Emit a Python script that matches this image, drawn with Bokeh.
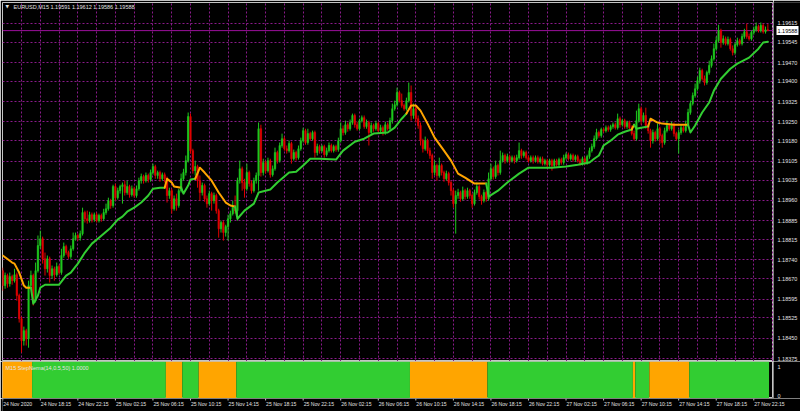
import numpy as np
from bokeh.plotting import figure
from bokeh.layouts import column, row
from bokeh.models import Range1d, FixedTicker, Grid, Span, ColumnDataSource
from bokeh.core.properties import value
from bokeh.embed import file_html
from bokeh.resources import INLINE

# ---------------- data ----------------
symbol_title = "EURUSD,M15  1.19591 1.19612 1.19586 1.19588"
indicator_title = "M15 StepNema(14,0.5,50) 1.0000"
last_price = 1.19588
open_first = 1.18700

close = [
1.18645,1.18682,1.18652,1.18678,1.18663,1.18685,1.18608,1.18522,1.18441,1.18478,
1.18448,1.18645,1.18682,1.18589,1.18700,1.18793,1.18818,1.18744,1.18707,1.18744,
1.18682,1.18707,1.18685,1.18715,1.18693,1.18756,1.18789,1.18767,1.18752,1.18781,
1.18818,1.18830,1.18822,1.18837,1.18915,1.18892,1.18885,1.18907,1.18889,1.18907,
1.18885,1.18904,1.18892,1.18915,1.18929,1.18959,1.18941,1.19011,1.18970,1.18996,
1.19011,1.19018,1.18989,1.19011,1.18981,1.19003,1.18978,1.19003,1.19033,1.19048,
1.19033,1.19052,1.19037,1.19063,1.19085,1.19052,1.19063,1.19040,1.19055,1.19040,
1.18978,1.18996,1.18929,1.18966,1.18941,1.18996,1.19040,1.19063,1.19107,1.19270,
1.19144,1.19070,1.19085,1.19033,1.18989,1.19015,1.18966,1.18948,1.18985,1.18959,
1.18978,1.18922,1.18855,1.18878,1.18841,1.18863,1.18892,1.18911,1.18941,1.18922,
1.19033,1.19077,1.19026,1.19003,1.19063,1.19022,1.18996,1.19033,1.19052,1.19225,
1.19063,1.19100,1.19070,1.19107,1.19055,1.19077,1.19137,1.19107,1.19163,1.19188,
1.19151,1.19144,1.19170,1.19114,1.19137,1.19118,1.19151,1.19181,1.19218,1.19174,
1.19207,1.19188,1.19211,1.19137,1.19159,1.19144,1.19159,1.19129,1.19144,1.19163,
1.19144,1.19159,1.19148,1.19181,1.19225,1.19211,1.19240,1.19225,1.19248,1.19274,
1.19240,1.19225,1.19255,1.19266,1.19233,1.19248,1.19211,1.19237,1.19225,1.19244,
1.19218,1.19229,1.19211,1.19240,1.19225,1.19255,1.19299,1.19314,1.19359,1.19329,
1.19311,1.19299,1.19329,1.19359,1.19274,1.19299,1.19262,1.19237,1.19181,1.19151,
1.19181,1.19144,1.19126,1.19063,1.19089,1.19052,1.19089,1.19063,1.19040,1.19059,
1.19026,1.18996,1.18948,1.18978,1.18989,1.18966,1.18996,1.18974,1.18996,1.18978,
1.18948,1.18989,1.19011,1.18974,1.18959,1.18989,1.18966,1.19040,1.19077,1.19048,
1.19089,1.19063,1.19107,1.19126,1.19107,1.19122,1.19107,1.19118,1.19107,1.19118,
1.19144,1.19126,1.19137,1.19118,1.19107,1.19118,1.19107,1.19118,1.19103,1.19114,
1.19096,1.19107,1.19092,1.19107,1.19089,1.19107,1.19092,1.19111,1.19100,1.19118,
1.19129,1.19114,1.19126,1.19111,1.19122,1.19107,1.19096,1.19114,1.19100,1.19122,
1.19144,1.19159,1.19188,1.19211,1.19200,1.19222,1.19218,1.19229,1.19222,1.19233,
1.19240,1.19229,1.19262,1.19240,1.19255,1.19233,1.19248,1.19229,1.19207,1.19188,
1.19255,1.19299,1.19255,1.19274,1.19237,1.19218,1.19181,1.19211,1.19188,1.19225,
1.19200,1.19174,1.19218,1.19237,1.19225,1.19240,1.19207,1.19188,1.19211,1.19229,
1.19218,1.19240,1.19285,1.19318,1.19348,1.19373,1.19403,1.19440,1.19410,1.19396,
1.19433,1.19459,1.19484,1.19521,1.19551,1.19588,1.19544,1.19558,1.19540,1.19555,
1.19521,1.19507,1.19536,1.19551,1.19540,1.19566,1.19584,1.19566,1.19558,1.19581,
1.19592,1.19603,1.19588,1.19607,1.19584,1.19591,1.19588]

high = [
1.18711,1.18693,1.18689,1.18693,1.18685,1.18707,1.18693,1.18615,1.18530,1.18493,
1.18485,1.18663,1.18700,1.18689,1.18730,1.18830,1.18848,1.18826,1.18767,1.18756,
1.18752,1.18719,1.18715,1.18730,1.18722,1.18781,1.18804,1.18796,1.18774,1.18793,
1.18841,1.18841,1.18837,1.18848,1.18933,1.18922,1.18922,1.18918,1.18915,1.18915,
1.18915,1.18911,1.18911,1.18929,1.18948,1.18970,1.18966,1.19018,1.19022,1.19007,
1.19018,1.19026,1.19033,1.19033,1.19018,1.19015,1.19011,1.19015,1.19044,1.19059,
1.19055,1.19063,1.19059,1.19074,1.19096,1.19092,1.19070,1.19070,1.19063,1.19063,
1.19048,1.19007,1.19003,1.18978,1.18985,1.19003,1.19059,1.19077,1.19126,1.19285,
1.19281,1.19151,1.19107,1.19092,1.19052,1.19026,1.19022,1.18978,1.18996,1.18992,
1.18989,1.18985,1.18929,1.18885,1.18885,1.18870,1.18907,1.18922,1.18959,1.18978,
1.19044,1.19107,1.19085,1.19040,1.19096,1.19070,1.19033,1.19044,1.19063,1.19248,
1.19240,1.19114,1.19107,1.19118,1.19114,1.19089,1.19155,1.19144,1.19174,1.19207,
1.19196,1.19163,1.19181,1.19177,1.19148,1.19144,1.19163,1.19192,1.19229,1.19225,
1.19225,1.19214,1.19218,1.19218,1.19170,1.19166,1.19166,1.19166,1.19155,1.19174,
1.19170,1.19166,1.19166,1.19192,1.19248,1.19237,1.19255,1.19248,1.19259,1.19281,
1.19281,1.19251,1.19262,1.19274,1.19274,1.19259,1.19255,1.19248,1.19244,1.19255,
1.19251,1.19240,1.19237,1.19251,1.19248,1.19266,1.19318,1.19329,1.19377,1.19366,
1.19355,1.19318,1.19340,1.19396,1.19385,1.19318,1.19307,1.19274,1.19248,1.19188,
1.19196,1.19188,1.19155,1.19133,1.19107,1.19096,1.19118,1.19096,1.19070,1.19070,
1.19066,1.19033,1.19003,1.18996,1.19003,1.18996,1.19011,1.19003,1.19007,1.19003,
1.18985,1.19000,1.19026,1.19018,1.18981,1.19000,1.18996,1.19063,1.19096,1.19085,
1.19107,1.19096,1.19144,1.19137,1.19133,1.19133,1.19129,1.19126,1.19126,1.19129,
1.19174,1.19151,1.19144,1.19144,1.19126,1.19126,1.19126,1.19126,1.19126,1.19122,
1.19122,1.19114,1.19114,1.19114,1.19114,1.19114,1.19114,1.19118,1.19118,1.19129,
1.19137,1.19137,1.19133,1.19133,1.19129,1.19129,1.19114,1.19122,1.19122,1.19129,
1.19155,1.19170,1.19200,1.19225,1.19218,1.19229,1.19229,1.19237,1.19237,1.19240,
1.19248,1.19248,1.19281,1.19270,1.19262,1.19262,1.19255,1.19255,1.19237,1.19218,
1.19292,1.19318,1.19307,1.19285,1.19303,1.19244,1.19225,1.19222,1.19218,1.19244,
1.19233,1.19207,1.19229,1.19255,1.19244,1.19251,1.19248,1.19214,1.19222,1.19240,
1.19237,1.19255,1.19299,1.19329,1.19359,1.19392,1.19418,1.19451,1.19447,1.19422,
1.19440,1.19477,1.19496,1.19540,1.19566,1.19610,1.19595,1.19570,1.19566,1.19566,
1.19562,1.19533,1.19544,1.19562,1.19558,1.19577,1.19595,1.19614,1.19577,1.19588,
1.19603,1.19618,1.19610,1.19618,1.19614,1.19603,1.19612]

low = [
1.18626,1.18633,1.18637,1.18641,1.18648,1.18656,1.18589,1.18508,1.18397,1.18423,
1.18423,1.18415,1.18633,1.18571,1.18582,1.18693,1.18781,1.18726,1.18682,1.18693,
1.18656,1.18670,1.18663,1.18678,1.18685,1.18685,1.18748,1.18759,1.18744,1.18744,
1.18774,1.18811,1.18811,1.18811,1.18830,1.18878,1.18874,1.18878,1.18878,1.18881,
1.18878,1.18878,1.18881,1.18885,1.18907,1.18922,1.18929,1.18933,1.18959,1.18963,
1.18985,1.18948,1.18978,1.18981,1.18970,1.18974,1.18970,1.18970,1.18996,1.19022,
1.19022,1.19026,1.19026,1.19029,1.19055,1.19040,1.19040,1.19029,1.19033,1.19026,
1.18952,1.18966,1.18911,1.18922,1.18922,1.18933,1.18989,1.19033,1.19052,1.19100,
1.19133,1.19059,1.19052,1.19007,1.18959,1.18978,1.18955,1.18933,1.18941,1.18922,
1.18948,1.18911,1.18822,1.18841,1.18811,1.18826,1.18811,1.18878,1.18904,1.18911,
1.18885,1.19022,1.18996,1.18970,1.18996,1.19011,1.18985,1.18989,1.19022,1.18996,
1.19048,1.19052,1.19059,1.19063,1.19044,1.19048,1.19070,1.19096,1.19100,1.19155,
1.19144,1.19133,1.19137,1.19096,1.19107,1.19107,1.19111,1.19144,1.19174,1.19166,
1.19166,1.19181,1.19181,1.19118,1.19126,1.19133,1.19137,1.19118,1.19122,1.19137,
1.19137,1.19137,1.19140,1.19140,1.19174,1.19200,1.19203,1.19214,1.19218,1.19240,
1.19229,1.19218,1.19218,1.19248,1.19225,1.19225,1.19163,1.19203,1.19214,1.19218,
1.19211,1.19211,1.19200,1.19203,1.19218,1.19218,1.19244,1.19292,1.19307,1.19322,
1.19303,1.19292,1.19292,1.19322,1.19255,1.19262,1.19248,1.19225,1.19163,1.19137,
1.19144,1.19133,1.19114,1.19040,1.19052,1.19033,1.19044,1.19052,1.19029,1.19033,
1.19015,1.18978,1.18933,1.18837,1.18966,1.18955,1.18959,1.18963,1.18966,1.18966,
1.18933,1.18941,1.18981,1.18963,1.18944,1.18952,1.18955,1.18959,1.19033,1.19037,
1.19040,1.19052,1.19055,1.19100,1.19096,1.19100,1.19096,1.19100,1.19096,1.19100,
1.19111,1.19114,1.19118,1.19111,1.19100,1.19100,1.19096,1.19100,1.19096,1.19096,
1.19089,1.19089,1.19081,1.19085,1.19070,1.19081,1.19085,1.19085,1.19092,1.19092,
1.19111,1.19107,1.19107,1.19103,1.19103,1.19100,1.19089,1.19089,1.19092,1.19092,
1.19114,1.19137,1.19151,1.19181,1.19192,1.19192,1.19211,1.19211,1.19214,1.19214,
1.19225,1.19222,1.19222,1.19229,1.19233,1.19225,1.19225,1.19222,1.19200,1.19181,
1.19181,1.19248,1.19240,1.19248,1.19225,1.19207,1.19155,1.19170,1.19177,1.19181,
1.19170,1.19155,1.19166,1.19211,1.19218,1.19218,1.19196,1.19181,1.19133,1.19203,
1.19211,1.19211,1.19233,1.19277,1.19311,1.19340,1.19366,1.19392,1.19403,1.19385,
1.19388,1.19425,1.19451,1.19477,1.19514,1.19544,1.19525,1.19536,1.19533,1.19533,
1.19514,1.19496,1.19499,1.19529,1.19533,1.19533,1.19558,1.19558,1.19551,1.19551,
1.19573,1.19584,1.19581,1.19581,1.19577,1.19577,1.19586]

# StepNema line, sampled at these bar numbers
ma_bar = [0,4,5,7,9,10,12,13,15,16,
          18,24,27,29,32,35,38,41,43,46,
          49,51,53,56,59,62,64,67,69,70,
          71,72,73,76,77,79,80,82,84,86,
          89,92,95,97,99,100,103,107,109,114,
          117,122,125,128,131,135,142,145,150,154,
          158,164,167,170,172,174,176,178,181,184,
          188,191,194,197,201,206,207,211,215,220,
          224,234,240,245,250,252,254,255,256,259,
          262,265,268,269,270,272,275,276,279,281,
          286,292,293,295,298,301,303,306,310,313,
          318,322,324,326]
ma_val = [1.18756,1.18730,1.18726,1.18693,1.18645,1.18637,1.18637,1.18578,1.18608,1.18637,
          1.18648,1.18648,1.18682,1.18693,1.18726,1.18767,1.18800,1.18822,1.18837,1.18859,
          1.18889,1.18900,1.18918,1.18933,1.18952,1.18978,1.19003,1.19007,1.19007,1.19040,
          1.19033,1.19026,1.19011,1.19007,1.18985,1.19015,1.19037,1.19040,1.19081,1.19063,
          1.19033,1.18989,1.18952,1.18941,1.18937,1.18892,1.18922,1.18948,1.18989,1.19000,
          1.19026,1.19063,1.19066,1.19089,1.19114,1.19114,1.19111,1.19144,1.19177,1.19188,
          1.19207,1.19211,1.19229,1.19262,1.19281,1.19311,1.19311,1.19292,1.19244,1.19192,
          1.19144,1.19107,1.19059,1.19044,1.19022,1.19022,1.18974,1.18996,1.19026,1.19059,
          1.19081,1.19081,1.19085,1.19092,1.19100,1.19114,1.19126,1.19144,1.19163,1.19181,
          1.19203,1.19214,1.19222,1.19240,1.19225,1.19229,1.19233,1.19262,1.19248,1.19244,
          1.19240,1.19240,1.19211,1.19237,1.19285,1.19322,1.19366,1.19410,1.19447,1.19466,
          1.19488,1.19521,1.19544,1.19547]

# trend state runs (0 = down / orange, 1 = up / green)
trend_lengths = [13, 57, 7, 7, 16, 74, 33, 62, 1, 6, 17, 34]
trend_values = [0, 1, 0, 1, 0, 1, 0, 1, 0, 1, 0, 1]

price_ticks = [1.19615, 1.19545, 1.19470, 1.19400, 1.19325, 1.19250, 1.19180, 1.19105,
               1.19035, 1.18960, 1.18885, 1.18815, 1.18740, 1.18670, 1.18595, 1.18525,
               1.18450, 1.18375]
panel_ticks = [0, 1]
time_tick_bars = [0, 16, 32, 48, 64, 80, 96, 112, 128, 144, 160, 176, 192, 208, 224,
                  240, 256, 272, 288, 304, 320]
time_labels = ["24 Nov 2020", "24 Nov 18:15", "24 Nov 22:15", "25 Nov 02:15", "25 Nov 06:15",
               "25 Nov 10:15", "25 Nov 14:15", "25 Nov 18:15", "25 Nov 22:15", "26 Nov 02:15",
               "26 Nov 06:15", "26 Nov 10:15", "26 Nov 14:15", "26 Nov 18:15", "26 Nov 22:15",
               "27 Nov 02:15", "27 Nov 06:15", "27 Nov 10:15", "27 Nov 14:15", "27 Nov 18:15",
               "27 Nov 22:15"]

# ---------------- styling ----------------
FONT = "Liberation Sans"
FG = "#e2e2e2"
FRAME = "#c4c4c4"
GRID = "#8a1a8a"
UP, DN = "#1ec81e", "#e00000"
MA_COL = {1: "#32cd32", 0: "#ffa500"}
FS = "5.5px"

X0, X1 = -0.107, 328.4
Y0, Y1 = 1.18364, 1.19692
PY0, PY1 = -0.107, 1.214
MAIN_W, AXIS_W = 773, 27

def base_fig(**kw):
    f = figure(output_backend="svg", toolbar_location=None,
               x_axis_location=None, y_axis_location=None,
               background_fill_color="black", border_fill_color="black", **kw)
    f.grid.visible = False
    return f

c = np.array(close)
o = np.concatenate([[open_first], c[:-1]])
h = np.maximum(np.array(high), np.maximum(o, c))
l = np.minimum(np.array(low), np.minimum(o, c))
bars = np.arange(len(c))
col = np.where(c >= o, UP, DN)
state = np.repeat(trend_values, trend_lengths)

# ---------------- main price chart ----------------
p = base_fig(width=MAIN_W, height=361, x_range=Range1d(X0, X1), y_range=Range1d(Y0, Y1),
             min_border_left=2, min_border_top=2, min_border_bottom=0, min_border_right=0,
             outline_line_color=FRAME, outline_line_width=1)

p.add_layout(Grid(dimension=1, ticker=FixedTicker(ticks=price_ticks),
                  grid_line_color=GRID, grid_line_dash="2 2", grid_line_width=1))
p.add_layout(Grid(dimension=0, ticker=FixedTicker(ticks=list(range(8, int(X1) + 1, 8))),
                  grid_line_color=GRID, grid_line_dash="2 2", grid_line_width=1))
p.add_layout(Span(location=last_price, dimension="width", line_color="#9b109b",
                  line_width=1, level="underlay"))

src = ColumnDataSource(dict(x=bars, hi=h, lo=l, top=np.maximum(o, c), bot=np.minimum(o, c), color=col))
p.segment(x0="x", y0="hi", x1="x", y1="lo", line_color="color", line_width=1, source=src)
p.vbar(x="x", width=0.6, top="top", bottom="bot", fill_color="color", line_color="color",
       line_width=0.6, source=src)

# StepNema line coloured by trend state
xs, ys, cs = [], [], []
cur = None
for b, v in zip(ma_bar, ma_val):
    s = int(state[b])
    if s != cur:
        if cur is None:
            xs.append([]); ys.append([])
        else:
            xs.append([xs[-1][-1]]); ys.append([ys[-1][-1]])
        cs.append(MA_COL[s])
        cur = s
    xs[-1].append(b); ys[-1].append(v)
p.multi_line(xs=xs, ys=ys, line_color=cs, line_width=2, line_join="round", line_cap="round")

p.text(x=[X0], y=[Y1], text=["\u25bc"], x_offset=3, y_offset=4, text_baseline="middle",
       text_align="left", text_font=value("DejaVu Sans"), text_font_size=value("4.5px"),
       text_color=FG)
p.text(x=[X0], y=[Y1], text=[symbol_title], x_offset=11, y_offset=4, text_baseline="middle",
       text_align="left", text_font=value(FONT), text_font_size=value(FS), text_color=FG)

# price axis strip
pa = base_fig(width=AXIS_W, height=361, x_range=Range1d(0, AXIS_W), y_range=p.y_range,
              min_border_left=0, min_border_top=2, min_border_bottom=0, min_border_right=0,
              outline_line_color=None)
pa.text(x=4, y=price_ticks, text=[f"{t:.5f}" for t in price_ticks], text_baseline="middle",
        text_align="left", text_font=value(FONT), text_font_size=value(FS), text_color=FG)
pa.rect(x=14, y=last_price, width=22, height=9, height_units="screen",
        fill_color="white", line_color=None)
pa.text(x=4, y=[last_price], text=[f"{last_price:.5f}"], text_baseline="middle",
        text_align="left", text_font=value(FONT), text_font_size=value(FS), text_color="black")

# ---------------- indicator panel ----------------
q = base_fig(width=MAIN_W, height=37, x_range=p.x_range, y_range=Range1d(PY0, PY1),
             min_border_left=2, min_border_top=0, min_border_bottom=0, min_border_right=0,
             outline_line_color=FRAME, outline_line_width=1)
ends = np.cumsum(trend_lengths)
starts = ends - np.array(trend_lengths)
q.quad(left=starts - 0.5, right=ends - 0.5, bottom=PY0, top=PY1,
       fill_color=[MA_COL[v] for v in trend_values], line_color=None)
q.text(x=[X0], y=[PY1], text=[indicator_title], x_offset=3, y_offset=6.5,
       text_baseline="middle", text_align="left", text_font=value(FONT),
       text_font_size=value(FS), text_color=FG)

qa = base_fig(width=AXIS_W, height=37, x_range=Range1d(0, AXIS_W), y_range=q.y_range,
              min_border_left=0, min_border_top=0, min_border_bottom=0, min_border_right=0,
              outline_line_color=None)
qa.text(x=4, y=panel_ticks, text=[str(t) for t in panel_ticks], text_baseline="middle",
        text_align="left", text_font=value(FONT), text_font_size=value(FS), text_color=FG)

# ---------------- time axis strip ----------------
px_per_bar = (MAIN_W - 2) / (X1 - X0)
ts = base_fig(width=MAIN_W + AXIS_W, height=13,
              x_range=Range1d(X0, X0 + (MAIN_W + AXIS_W - 2) / px_per_bar),
              y_range=Range1d(0, 13),
              min_border_left=2, min_border_top=0, min_border_bottom=0, min_border_right=0,
              outline_line_color=None)
ts.segment(x0=time_tick_bars, y0=13, x1=time_tick_bars, y1=11, line_color=FRAME, line_width=1)
ts.text(x=time_tick_bars, y=11, text=time_labels, x_offset=0.5, text_baseline="top",
        text_align="left", text_font=value(FONT), text_font_size=value("5.1px"), text_color=FG)

root = column(row(p, pa, spacing=0), row(q, qa, spacing=0), ts, spacing=0,
              styles={"position": "absolute", "left": "0px", "top": "0px"})
open("out.html", "w").write(file_html(root, INLINE))
